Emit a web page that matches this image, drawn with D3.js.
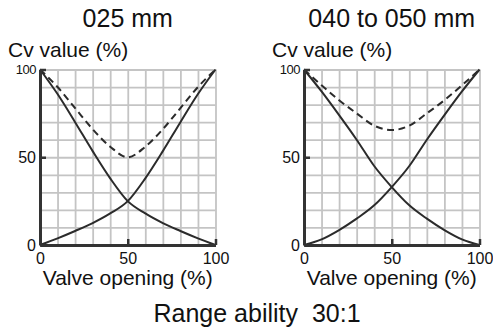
<!DOCTYPE html>
<html>
<head>
<meta charset="utf-8">
<script src="https://cdn.jsdelivr.net/npm/d3@7"></script>
<style>
  body { margin: 0; background: #fff; }
  svg { font-family: "Liberation Sans", Arial, sans-serif; }
</style>
</head>
<body>
<div id="chart"></div>
<script>

// data (valve opening % -> Cv %)

const opening = [0, 10, 20, 30, 40, 50, 60, 70, 80, 90, 100]

const rise025 = [0, 3.8, 8, 12.5, 18, 25, 38, 53.5, 70, 86, 100]
const fall025 = [100, 86, 70, 53.5, 38, 25, 18, 12.5, 8, 3.8, 0]
const total025 = [100, 90, 78, 66, 56, 50, 56, 66, 78, 90, 100]

const rise040 = [0, 3.2, 8.5, 15, 22.6, 33, 45, 60, 74, 87.5, 100]
const fall040 = [100, 87.5, 74, 60, 45, 33, 22.6, 15, 8.5, 3.2, 0]
const total040 = [100, 91, 82.5, 75, 68, 65.5, 68, 75, 82.5, 91, 100]

const tickValues = [0, 50, 100]
const titles = ["025 mm", "040 to 050 mm"]
const yTitle = "Cv value (%)"
const xTitle = "Valve opening (%)"
const footer = "Range ability\u00a0\u00a030:1"

// layout

const width = 493
const height = 331
const plotW = 175.5
const plotTop = 69.5
const plotBottom = 245
const lefts = [40, 304]

const svg = d3.select("#chart")
  .append("svg")
  .attr("width", width)
  .attr("height", height)

const yScale = d3.scaleLinear()
  .domain([0, 100])
  .range([plotBottom, plotTop])

const lineGen = x => d3.line()
  .x((d, i) => x(opening[i]))
  .y(d => yScale(d))
  .curve(d3.curveMonotoneX)

const panels = [
  {title: titles[0], left: lefts[0], rise: rise025, fall: fall025, total: total025},
  {title: titles[1], left: lefts[1], rise: rise040, fall: fall040, total: total040}
]

panels.forEach(p => {
  const xScale = d3.scaleLinear()
    .domain([0, 100])
    .range([p.left, p.left + plotW])

  const g = svg.append("g")

  // grid
  g.append("g")
    .attr("class", "grid")
    .attr("transform", `translate(0, ${plotBottom})`)
    .call(d3.axisBottom(xScale).tickValues(d3.range(10, 101, 10)).tickSize(-(plotBottom - plotTop)).tickFormat(""))
    .call(s => s.select(".domain").remove())

  g.append("g")
    .attr("class", "grid")
    .attr("transform", `translate(${p.left}, 0)`)
    .call(d3.axisLeft(yScale).tickValues(d3.range(10, 101, 10)).tickSize(-plotW).tickFormat(""))
    .call(s => s.select(".domain").remove())

  g.selectAll(".grid line")
    .attr("stroke", "#c4c4c4")
    .attr("stroke-width", 1.8)

  // curves
  const line = lineGen(xScale)

  g.selectAll(".curve")
    .data([p.rise, p.fall])
    .join("path")
    .attr("class", "curve")
    .attr("fill", "none")
    .attr("stroke", "#2b2b2b")
    .attr("stroke-width", 2)
    .attr("d", d => line(d))

  g.append("path")
    .datum(p.total)
    .attr("fill", "none")
    .attr("stroke", "#2b2b2b")
    .attr("stroke-width", 2)
    .attr("stroke-dasharray", "7,4.5")
    .attr("d", line)

  // axes
  const xAxisGroup = g.append("g")
    .attr("transform", `translate(0, ${plotBottom})`)
    .call(d3.axisBottom(xScale).tickValues(tickValues).tickSizeInner(-6).tickSizeOuter(0).tickPadding(8))

  const yAxisGroup = g.append("g")
    .attr("transform", `translate(${p.left}, 0)`)
    .call(d3.axisLeft(yScale).tickValues(tickValues).tickSizeInner(-6).tickSizeOuter(0).tickPadding(4))

  ;[xAxisGroup, yAxisGroup].forEach(a => {
    a.select(".domain").attr("stroke", "#333").attr("stroke-width", 3)
    a.selectAll(".tick line").attr("stroke", "#333").attr("stroke-width", 2.5)
    a.selectAll(".tick text")
      .attr("fill", "#111")
      .attr("font-family", "Liberation Sans, Arial, sans-serif")
      .attr("font-size", 16)
  })
  yAxisGroup.selectAll(".tick text")
    .filter(d => d === 100)
    .attr("font-size", 13)
    .attr("letter-spacing", -0.5)

  // titles
  g.append("text")
    .attr("x", (xScale(0) + xScale(100)) / 2)
    .attr("y", 27)
    .attr("text-anchor", "middle")
    .attr("font-size", 25)
    .attr("fill", "#111")
    .text(p.title)

  g.append("text")
    .attr("x", p.left - 32)
    .attr("y", 57)
    .attr("font-size", 21)
    .attr("fill", "#111")
    .text(yTitle)

  g.append("text")
    .attr("x", (xScale(0) + xScale(100)) / 2)
    .attr("y", 285)
    .attr("text-anchor", "middle")
    .attr("font-size", 21)
    .attr("fill", "#111")
    .text(xTitle)
})

svg.append("text")
  .attr("x", 257)
  .attr("y", 322)
  .attr("text-anchor", "middle")
  .attr("font-size", 25)
  .attr("fill", "#111")
  .text(footer)

</script>
</body>
</html>
